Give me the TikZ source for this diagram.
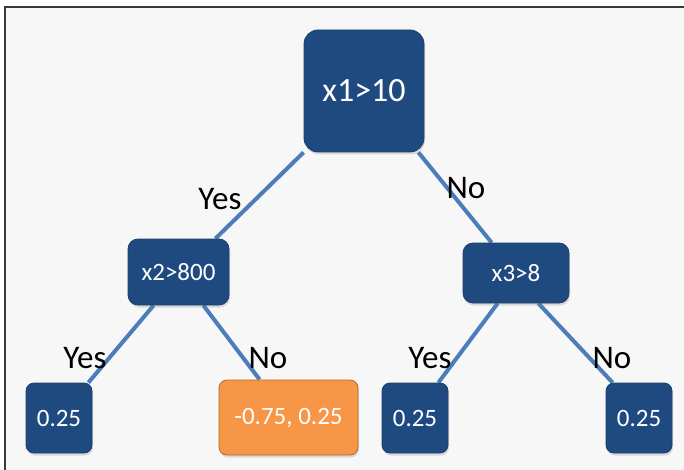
\documentclass[tikz,border=0pt]{standalone}
\usepackage{fontspec}
\setmainfont{Carlito}
\usetikzlibrary{positioning, calc, backgrounds, shadows}
\definecolor{cnavy}{HTML}{1F4A80}
\definecolor{corange}{HTML}{F79646}
\definecolor{cedge}{HTML}{4A7DBA}
\definecolor{cpanel}{HTML}{F7F7F7}
\definecolor{cframe}{HTML}{3A3A3A}
\tikzset{
  every picture/.style={x=1pt, y=-1pt},
  split/.style={fill=cnavy, draw=cnavy!85!black, line width=0.8pt, rounded corners=#1, text=white, inner sep=0pt,
    drop shadow={opacity=0.25, shadow xshift=1pt, shadow yshift=-2.5pt}},
  split/.default=10pt,
  leafbox/.style={split=8pt, minimum width=66pt, minimum height=70pt, font=\fontsize{25}{25}\selectfont},
  hitbox/.style={leafbox, fill=corange, draw=corange!70!black},
  edge/.style={draw=cedge, line width=4pt},
  answer/.style={font=\fontsize{33}{33}\selectfont, anchor=base, inner sep=0pt},
}

\begin{document}
\begin{tikzpicture}
  \useasboundingbox (0,0) rectangle (684,470);
  \begin{scope}[on background layer]
    \fill[cpanel] (5,7) rectangle (684,470);
    \draw[cframe, line width=2.5pt] (5,470) -- (5,7) -- (684,7);
  \end{scope}
  % splits
  \node[split=14pt, minimum width=120pt, minimum height=122pt, font=\fontsize{34}{34}\selectfont] (root) at (364,91) {x1>10};
  \node[split, minimum width=101pt, minimum height=66pt, font=\fontsize{25}{25}\selectfont] (x2) at (178.5,272) {x2>800};
  \node[split, minimum width=106pt, minimum height=60pt, font=\fontsize{25}{25}\selectfont] (x3) at (516,273) {x3>8};
  % leaves
  \node[leafbox] (leafA) at (59,418) {0.25};
  \node[hitbox, minimum width=139pt, minimum height=75pt] (leafB) at (288.5,417.5) {-0.75, 0.25};
  \node[leafbox] (leafC) at (415,418) {0.25};
  \node[leafbox] (leafD) at (639,418) {0.25};
  \begin{scope}[on background layer]
    \draw[edge] (root.south west) -- ([xshift=-14pt]x2.north east);
    \draw[edge] ([xshift=-6pt]root.south east) -- ([xshift=29pt]x3.north west);
    \draw[edge] ([xshift=26pt]x2.south west) -- ([xshift=-4pt]leafA.north east);
    \draw[edge] ([xshift=-26pt]x2.south east) -- ([xshift=41pt]leafB.north west);
    \draw[edge] ([xshift=35pt]x3.south west) -- ([xshift=-10pt]leafC.north east);
    \draw[edge] ([xshift=-31pt]x3.south east) -- ([xshift=7pt]leafD.north west);
  \end{scope}
  % branch answers
  \node[answer] (yesA) at (220,210) {Yes};
  \node[answer] (noA) at (466,198) {No};
  \node[answer] (yesB) at (85,368) {Yes};
  \node[answer] (noB) at (268,368) {No};
  \node[answer] (yesC) at (430,368) {Yes};
  \node[answer] (noC) at (612,368) {No};
\end{tikzpicture}
\end{document}
